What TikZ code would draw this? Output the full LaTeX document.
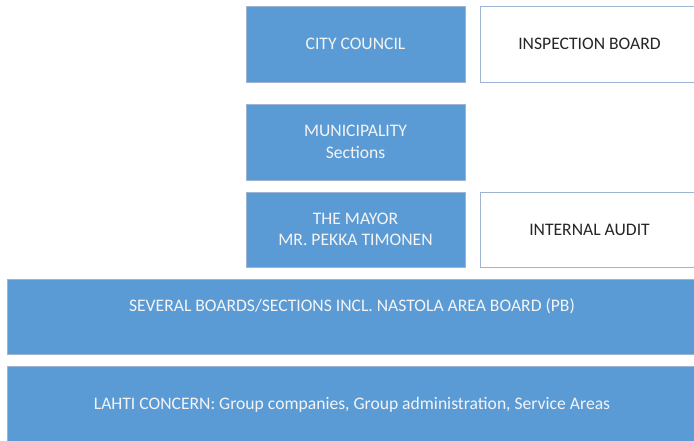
\documentclass[tikz,border=0pt]{standalone}
\usepackage{fontspec}
\setmainfont{Carlito}
\definecolor{boxblue}{HTML}{5B9BD5}
\definecolor{boxline}{HTML}{9DB5D3}
\definecolor{lighttext}{HTML}{F4F4F4}
\begin{document}
\begin{tikzpicture}[x=1pt,y=-1pt,
  txt/.style={font=\fontsize{17.6}{21.5}\selectfont},
  bluebox/.style={draw=boxline, line width=0.6pt, fill=boxblue, text=lighttext, txt, align=center, inner sep=0pt},
  whitebox/.style={draw=boxline, line width=0.8pt, fill=white, inner sep=0pt},
  darktext/.style={txt, text=black!85, inner sep=0pt},
  plaintext/.style={txt, text=lighttext, inner sep=0pt}]
\useasboundingbox (0,0) rectangle (694,440);
\node[bluebox, minimum width=219pt, minimum height=76pt] (council) at (355.5,44) {CITY COUNCIL};
\node[whitebox, minimum width=222pt, minimum height=76pt] (inspect) at (591,44) {};
\node[darktext] (inspecttext) at (589.5,44) {INSPECTION BOARD};
\node[bluebox, minimum width=219pt, minimum height=76pt] (muni) at (355.5,142) {MUNICIPALITY\\Sections};
\node[bluebox, minimum width=219pt, minimum height=75pt] (mayor) at (355.5,229.5) {THE MAYOR\\MR. PEKKA TIMONEN};
\node[whitebox, minimum width=222pt, minimum height=75pt] (audit) at (591,229.5) {};
\node[darktext] (audittext) at (589.5,229.5) {INTERNAL AUDIT};
\node[bluebox, minimum width=690pt, minimum height=75pt] (boards) at (352,316.5) {};
\node[plaintext] (boardstext) at (352,306) {SEVERAL BOARDS/SECTIONS INCL. NASTOLA AREA BOARD (PB)};
\node[bluebox, minimum width=690pt, minimum height=78pt] (lahti) at (352,405) {};
\node[plaintext] (lahtitext) at (352,405) {LAHTI CONCERN: Group companies, Group administration, Service Areas};
\end{tikzpicture}
\end{document}
